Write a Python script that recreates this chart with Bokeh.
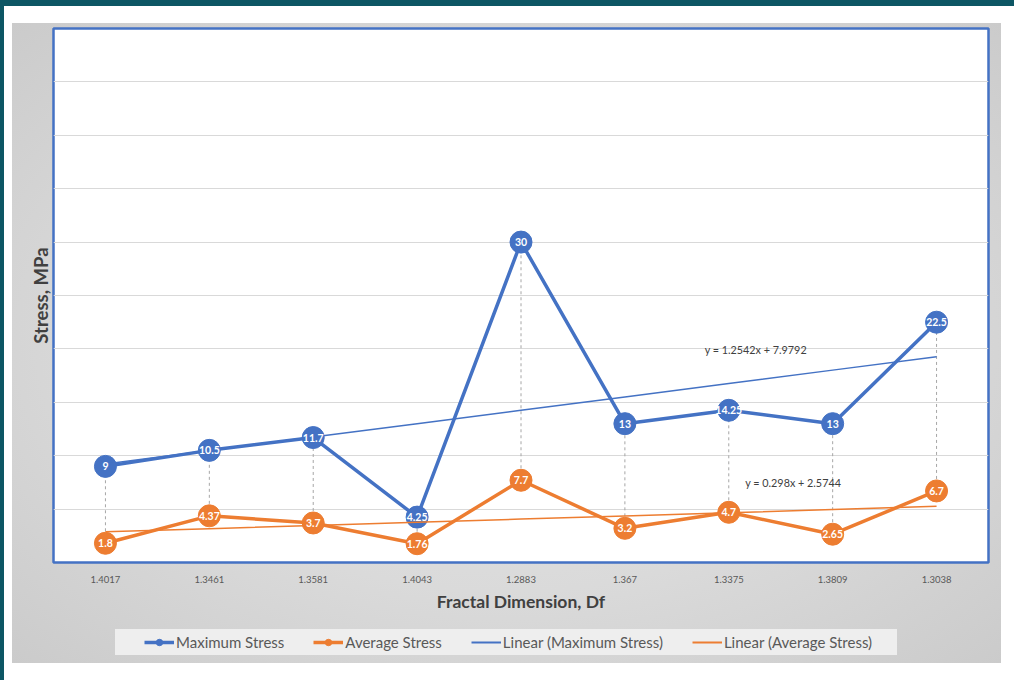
import numpy as np
from bokeh.plotting import figure
from bokeh.layouts import column
from bokeh.models import Range1d, FixedTicker, SingleIntervalTicker, Legend, LegendItem, ColumnDataSource
from bokeh.core.properties import value
from bokeh.embed import file_html
from bokeh.resources import INLINE

# Fractal dimension of each specimen (category labels along x)
fractal_dim = ["1.4017", "1.3461", "1.3581", "1.4043", "1.2883", "1.367", "1.3375", "1.3809", "1.3038"]
# Stress values, MPa
max_stress = [9, 10.5, 11.7, 4.25, 30, 13, 14.25, 13, 22.5]
avg_stress = [1.8, 4.37, 3.7, 1.76, 7.7, 3.2, 4.7, 2.65, 6.7]
max_labels = ["9", "10.5", "11.7", "4.25", "30", "13", "14.25", "13", "22.5"]
avg_labels = ["1.8", "4.37", "3.7", "1.76", "7.7", "3.2", "4.7", "2.65", "6.7"]
# Linear trend coefficients (slope, intercept) over the point index 1..n
max_fit = (1.2542, 7.9792)
avg_fit = (0.298, 2.5744)

BLUE = "#4472c4"
ORANGE = "#ed7d31"
FONT = "Lato"

n = len(fractal_dim)
xs = np.arange(n) + 0.5
idx = np.arange(1, n + 1)
max_trend = max_fit[0] * idx + max_fit[1]
avg_trend = avg_fit[0] * idx + avg_fit[1]

src = ColumnDataSource(dict(x=xs, ymax=max_stress, yavg=avg_stress,
                            lmax=max_labels, lavg=avg_labels))

# page backdrop: teal frame, white card, grey chart area, legend strip
page_bg = ("linear-gradient(#eeeeee, #eeeeee) 115px 629px / 782px 26px no-repeat, "
           "radial-gradient(ellipse at center, #e6e6e6 0%, #dadada 55%, #cbcbcb 100%) 12px 23px / 989px 640px no-repeat, "
           "linear-gradient(#ffffff, #ffffff) 4px 6px / 1010px 674px no-repeat, "
           "#0d5664")

p = figure(width=1014, height=615, output_backend="svg", toolbar_location=None,
           x_range=Range1d(0, n), y_range=Range1d(0, 50),
           min_border_left=53, min_border_right=26, min_border_top=28, min_border_bottom=53,
           background_fill_color="#ffffff", border_fill_alpha=0)

p.outline_line_color = BLUE
p.outline_line_width = 2.5

# axes
p.xaxis.ticker = FixedTicker(ticks=list(xs))
p.xaxis.major_label_overrides = {float(x): lab for x, lab in zip(xs, fractal_dim)}
p.xaxis.major_label_text_font = FONT
p.xaxis.major_label_text_font_size = "9.5px"
p.xaxis.major_label_text_color = "#595959"
p.xaxis.major_label_standoff = 7
p.xaxis.major_tick_line_color = None
p.xaxis.minor_tick_line_color = None
p.xaxis.axis_line_color = None
p.xaxis.axis_label = "Fractal Dimension, Df"
p.xaxis.axis_label_text_font = FONT
p.xaxis.axis_label_text_font_style = "bold"
p.xaxis.axis_label_text_font_size = "17.5px"
p.xaxis.axis_label_text_color = "#404040"
p.xaxis.axis_label_standoff = 5

y_ticks = list(range(0, 55, 5))
p.yaxis.ticker = FixedTicker(ticks=y_ticks)
p.yaxis.major_label_overrides = {t: "" for t in y_ticks}
p.yaxis.major_label_standoff = 0
p.yaxis.major_tick_line_color = None
p.yaxis.minor_tick_line_color = None
p.yaxis.axis_line_color = None
p.yaxis.axis_label = "Stress, MPa"
p.yaxis.axis_label_text_font = FONT
p.yaxis.axis_label_text_font_style = "bold"
p.yaxis.axis_label_text_font_size = "18.5px"
p.yaxis.axis_label_text_color = "#404040"
p.yaxis.axis_label_standoff = -4

p.xgrid.visible = False
p.ygrid.ticker = SingleIntervalTicker(interval=5)
p.ygrid.grid_line_color = "#d9d9d9"
p.ygrid.grid_line_width = 1

# high-low drop lines
p.segment(x0="x", y0="yavg", x1="x", y1="ymax", source=src,
          line_color="#a6a6a6", line_width=1, line_dash="3 3")

# series
p.line("x", "ymax", source=src, line_color=BLUE, line_width=3.5)
p.line("x", "yavg", source=src, line_color=ORANGE, line_width=3.5)
p.scatter("x", "ymax", source=src, size=22, fill_color=BLUE, line_color=BLUE)
p.scatter("x", "yavg", source=src, size=22, fill_color=ORANGE, line_color=ORANGE)

# trend lines
p.line(xs, max_trend, line_color=BLUE, line_width=1.5)
p.line(xs, avg_trend, line_color=ORANGE, line_width=1.5)

# data labels
for col, ycol in (("lmax", "ymax"), ("lavg", "yavg")):
    p.text("x", ycol, text=col, source=src, text_color="#ffffff",
           text_font=value(FONT), text_font_style="bold", text_font_size="10.5px",
           text_align="center", text_baseline="middle")

# trend equations
p.text([6.76], [19.95], text=[f"y = {max_fit[0]}x + {max_fit[1]}"], text_color="#404040",
       text_font=value(FONT), text_font_size="10.8px", text_align="center", text_baseline="middle")
p.text([7.12], [7.5], text=[f"y = {avg_fit[0]}x + {avg_fit[1]}"], text_color="#404040",
       text_font=value(FONT), text_font_size="10.8px", text_align="center", text_baseline="middle")

# legend strip below the chart; its sample glyphs sit outside the visible range
lg = figure(width=1014, height=65, output_backend="svg", toolbar_location=None,
            x_range=Range1d(0, 1), y_range=Range1d(0, 1),
            x_axis_type=None, y_axis_type=None,
            min_border=0, min_border_left=0, min_border_right=0, min_border_top=0, min_border_bottom=0,
            background_fill_alpha=0, border_fill_alpha=0, outline_line_color=None)
lg.grid.visible = False

off = dict(x=[5, 6], y=[5, 6])
lg_max_l = lg.line(line_color=BLUE, line_width=3.5, **off)
lg_max_m = lg.scatter(fill_color=BLUE, line_color=BLUE, size=8, **off)
lg_avg_l = lg.line(line_color=ORANGE, line_width=3.5, **off)
lg_avg_m = lg.scatter(fill_color=ORANGE, line_color=ORANGE, size=8, **off)
lg_max_t = lg.line(line_color=BLUE, line_width=2, **off)
lg_avg_t = lg.line(line_color=ORANGE, line_width=2, **off)

legend = Legend(items=[
    LegendItem(label="Maximum Stress", renderers=[lg_max_l, lg_max_m]),
    LegendItem(label="Average Stress", renderers=[lg_avg_l, lg_avg_m]),
    LegendItem(label="Linear (Maximum Stress)", renderers=[lg_max_t]),
    LegendItem(label="Linear (Average Stress)", renderers=[lg_avg_t]),
], orientation="horizontal", location=(91, 28))
legend.background_fill_alpha = 0
legend.border_line_color = None
legend.padding = 0
legend.margin = 0
legend.spacing = 29
legend.glyph_width = 30
legend.glyph_height = 16
legend.label_height = 20
legend.label_standoff = 2
legend.label_text_font = FONT
legend.label_text_font_size = "15px"
legend.label_text_color = "#595959"
lg.add_layout(legend, "center")

page = column(p, lg, spacing=0, width=1014, height=680, styles={"background": page_bg})

open("out.html", "w").write(file_html(page, INLINE))
